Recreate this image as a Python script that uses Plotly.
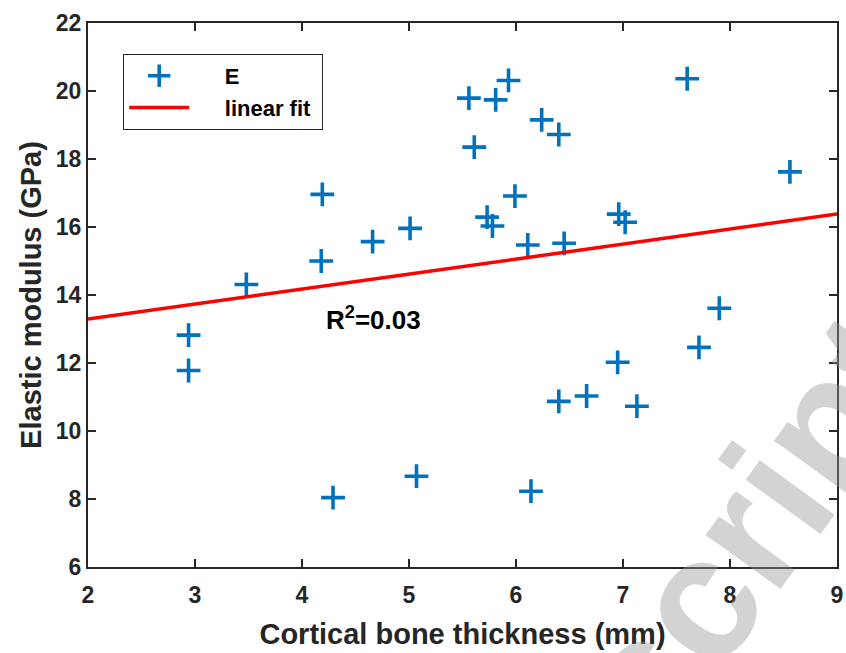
import plotly.graph_objects as go

# Data
thickness_mm = [3.48, 4.18, 4.19, 4.66, 5.01, 5.56, 5.61, 5.73, 5.78, 5.81,
                5.93, 6.24, 6.40, 7.60, 8.56, 5.99, 6.11, 6.45, 6.96, 7.02,
                7.90, 2.94, 2.94, 4.29, 5.07, 7.71, 6.95, 6.40, 6.66, 7.13, 6.14]
modulus_gpa = [14.31, 15.00, 16.96, 15.57, 15.96, 19.79, 18.35, 16.29, 16.03, 19.74,
               20.31, 19.15, 18.72, 20.36, 17.62, 16.91, 15.47, 15.52, 16.38, 16.14,
               13.61, 12.82, 11.78, 8.04, 8.67, 12.46, 12.02, 10.87, 11.03, 10.73, 8.23]

fit_x = [2.0, 9.0]
fit_y = [13.29, 16.38]

x_ticks = [2, 3, 4, 5, 6, 7, 8, 9]
y_ticks = [6, 8, 10, 12, 14, 16, 18, 20, 22]

r2_label = "R<sup>2</sup>=0.03"
r2_pos = [4.21, 13.32]

FONT = "Liberation Sans, Arial, sans-serif"
AX = "#262626"

fig = go.Figure()
fig.add_trace(go.Scatter(
    x=thickness_mm, y=modulus_gpa, mode="markers", name="E",
    marker=dict(symbol="cross-thin", size=17, color="#0072BD",
                line=dict(width=3.6, color="#0072BD")),
))
fig.add_trace(go.Scatter(
    x=fit_x, y=fit_y, mode="lines", name="linear fit",
    line=dict(color="#FF0000", width=3.5),
))

# watermark (background artefact of the reference)
fig.add_annotation(
    text="<b>Manuscript</b>", xref="paper", yref="paper", x=0.704, y=-0.269,
    showarrow=False, textangle=-54,
    font=dict(family=FONT, size=175, color="rgba(150,150,150,0.42)"),
    xanchor="center", yanchor="middle",
)

fig.add_annotation(
    text="<b>" + r2_label + "</b>", x=r2_pos[0], y=r2_pos[1], xref="x", yref="y",
    showarrow=False, xanchor="left", yanchor="middle",
    font=dict(family=FONT, size=26, color="black"),
)

axis_common = dict(
    showline=True, linecolor=AX, linewidth=2, mirror="ticks",
    ticks="inside", ticklen=8, tickwidth=2, tickcolor=AX,
    showgrid=False, zeroline=False, automargin=False,
    tickfont=dict(family=FONT, size=23, color=AX, weight="bold"),
)

fig.update_xaxes(range=[2, 9], tickvals=x_ticks, ticktext=[str(v) for v in x_ticks],
                 ticklabelstandoff=6,
                 title=dict(text="Cortical bone thickness (mm)",
                            font=dict(family=FONT, size=29, color=AX, weight="bold"), standoff=17),
                 **axis_common)
fig.update_yaxes(range=[6, 22], tickvals=y_ticks, ticktext=[str(v) for v in y_ticks],
                 title=dict(text="Elastic modulus (GPa)",
                            font=dict(family=FONT, size=29, color=AX, weight="bold"), standoff=6),
                 **axis_common)

fig.update_layout(
    width=846, height=653,
    margin=dict(l=88, r=9, t=23, b=86),
    paper_bgcolor="white", plot_bgcolor="white",
    showlegend=True,
    legend=dict(x=0.047, y=0.943, xanchor="left", yanchor="top",
                bordercolor=AX, borderwidth=1, bgcolor="white",
                font=dict(family=FONT, size=22, color="black", weight="bold"),
                itemwidth=60, tracegroupgap=0),
)
fig.data[0].name = "\u00a0\u00a0\u00a0\u00a0\u00a0E"
fig.data[1].name = "\u00a0\u00a0\u00a0\u00a0\u00a0linear fit\u00a0"

fig.write_html("out.html", config={"displayModeBar": False},
               post_script="document.body.style.margin='0px';document.body.style.overflow='hidden';")
